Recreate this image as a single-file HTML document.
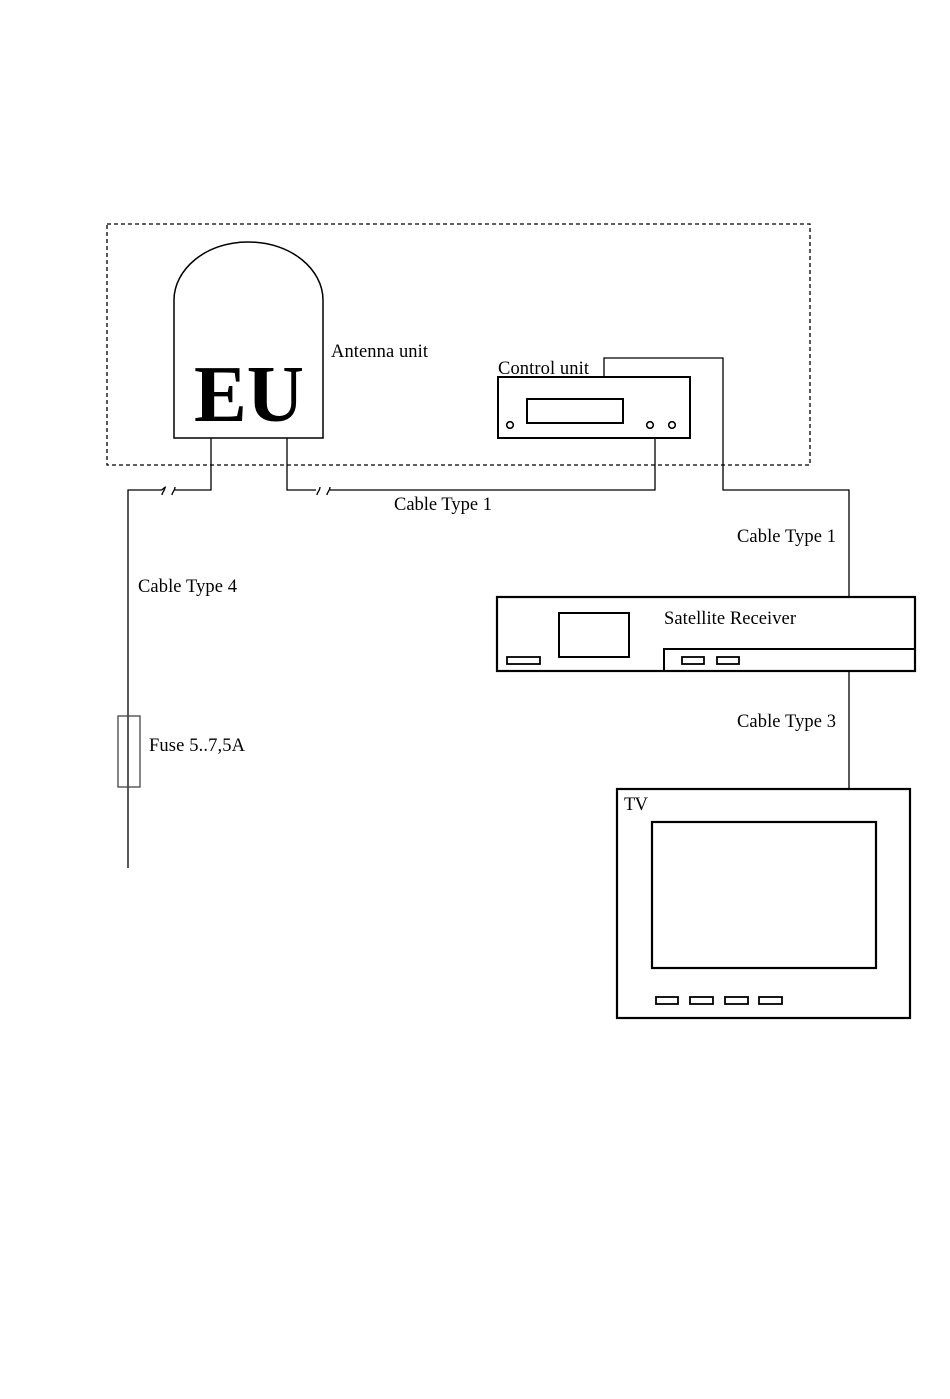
<!DOCTYPE html>
<html><head><style>html,body{margin:0;padding:0;background:#fff}svg{display:block}</style></head>
<body>
<svg width="950" height="1399" viewBox="0 0 950 1399" xmlns="http://www.w3.org/2000/svg" font-family="Liberation Serif, serif" fill="none" stroke="#000">
<rect x="107" y="224" width="703" height="241" stroke-width="1.3" stroke-dasharray="4,3"/>
<path d="M174 438 V300 C174 270 205 242 248 242 C292 242 323 270 323 300 V438 Z" stroke-width="1.5"/>
<text x="194" y="421" font-size="80" font-weight="bold" fill="#000" stroke="none" textLength="110" lengthAdjust="spacingAndGlyphs">EU</text>
<g fill="#000" stroke="none" font-size="18.5" lengthAdjust="spacingAndGlyphs">
<text x="331" y="357" textLength="97">Antenna unit</text>
<text x="498" y="374" textLength="91">Control unit</text>
<text x="394" y="510" textLength="98">Cable Type 1</text>
<text x="737" y="542" textLength="99">Cable Type 1</text>
<text x="138" y="592" textLength="99">Cable Type 4</text>
<text x="664" y="624" textLength="132">Satellite Receiver</text>
<text x="737" y="727" textLength="99">Cable Type 3</text>
<text x="149" y="751" textLength="96">Fuse 5..7,5A</text>
<text x="624" y="810" textLength="24">TV</text>
</g>
<path d="M211 438 V490 H128 V868" stroke-width="1.3"/>
<path d="M287 438 V490 H655 V438" stroke-width="1.3"/>
<g fill="#fff" stroke="none"><rect x="158" y="485" width="22" height="11"/><rect x="313" y="485" width="22" height="11"/></g>
<path d="M158 490 h3 c2 0 3-3 5-3 M162 495 c0-3 3-4 3-8 M172 495 c0-3 3-4 3-8 M175 490 h5 M313 490 h3 M317 495 c0-3 3-4 3-8 M327 495 c0-3 3-4 3-8 M330 490 h5" stroke-width="1.3"/>
<rect x="498" y="377" width="192" height="61" stroke-width="2"/>
<rect x="527" y="399" width="96" height="24" stroke-width="2"/>
<circle cx="510" cy="425" r="3.3" stroke-width="1.6"/>
<circle cx="650" cy="425" r="3.3" stroke-width="1.6"/>
<circle cx="672" cy="425" r="3.3" stroke-width="1.6"/>
<path d="M604 377 V358 H723 V490 H849 V597" stroke-width="1.3"/>
<rect x="497" y="597" width="418" height="74" stroke-width="2.2"/>
<rect x="559" y="613" width="70" height="44" stroke-width="2"/>
<rect x="507" y="657" width="33" height="7" stroke-width="1.8"/>
<path d="M915 649 H664 V671" stroke-width="2"/>
<rect x="682" y="657" width="22" height="7" stroke-width="1.8"/>
<rect x="717" y="657" width="22" height="7" stroke-width="1.8"/>
<path d="M849 671 V790" stroke-width="1.3"/>
<rect x="118" y="716" width="22" height="71" stroke="#444" stroke-width="1.3"/>
<rect x="617" y="789" width="293" height="229" stroke-width="2.2"/>
<rect x="652" y="822" width="224" height="146" stroke-width="2.2"/>
<g stroke-width="1.8"><rect x="656" y="997" width="22" height="7"/><rect x="690" y="997" width="23" height="7"/><rect x="725" y="997" width="23" height="7"/><rect x="759" y="997" width="23" height="7"/></g>
</svg>
</body></html>
